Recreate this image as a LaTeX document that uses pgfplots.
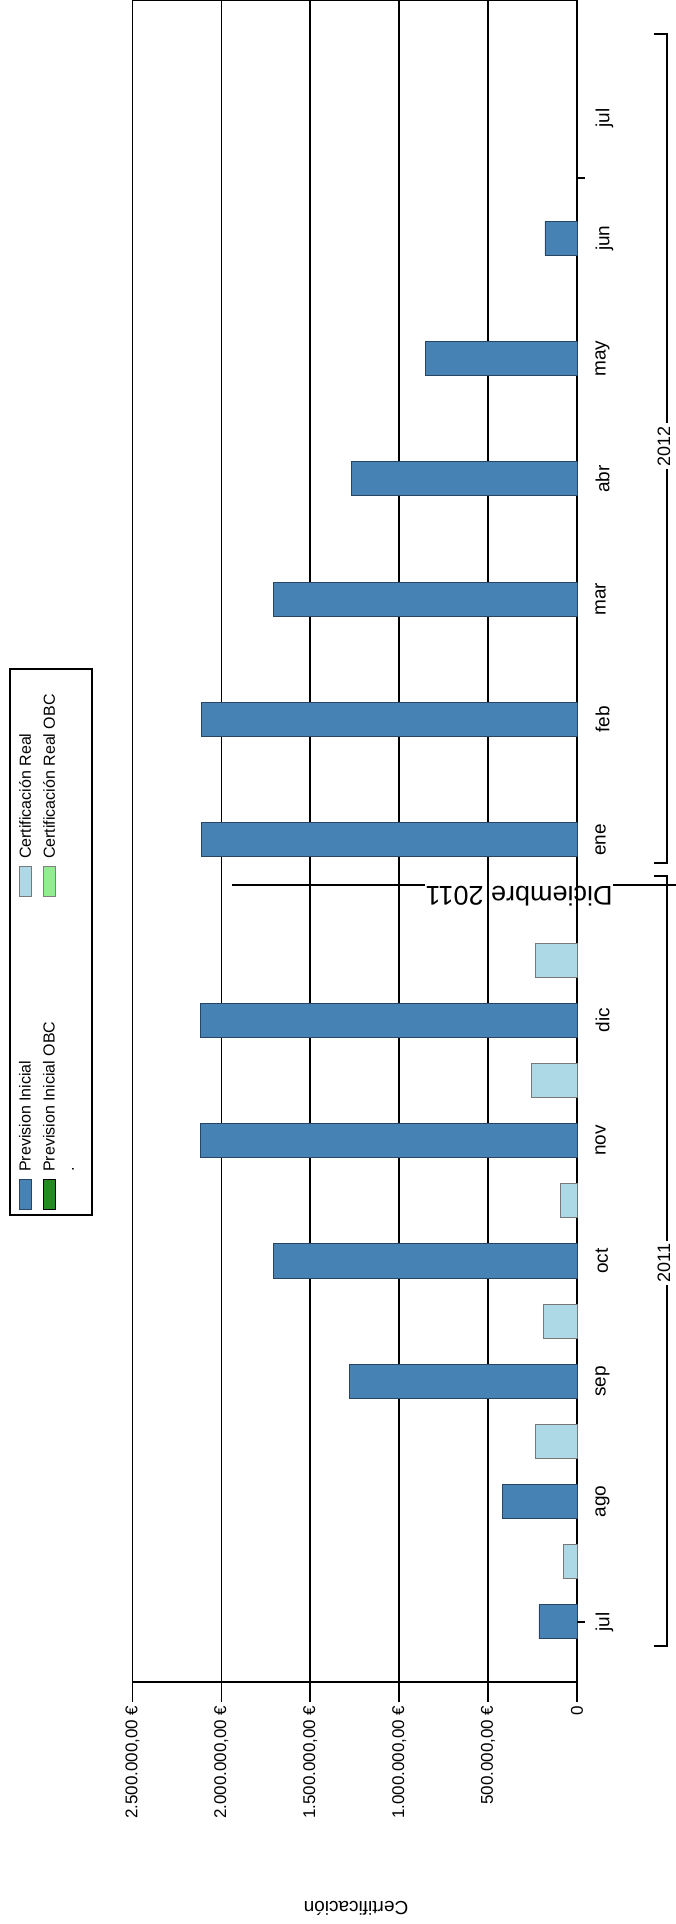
\documentclass[border=0pt]{standalone}
\usepackage{fontspec}
\setmainfont{Liberation Sans}
\usepackage{pgfplots}
\pgfplotsset{compat=1.18}
\newcommand{\fs}[1]{\fontsize{#1bp}{#1bp}\selectfont}
\definecolor{pi}{RGB}{70,130,180}
\definecolor{pie}{RGB}{40,70,100}
\definecolor{cr}{RGB}{173,216,230}
\definecolor{cre}{RGB}{120,120,120}
\definecolor{obc}{RGB}{34,139,34}
\definecolor{cobc}{RGB}{144,238,144}
\begin{document}
\begin{tikzpicture}
\path[use as bounding box] (0,0) rectangle (676bp,-1924bp);
\begin{axis}[
  at={(132.5bp,-1682bp)}, anchor=south west,
  scale only axis, width=444.5bp, height=1682bp,
  xbar, bar width=0.283, bar shift=0pt,
  xmin=0, xmax=2500000, x dir=reverse,
  ymin=-0.5, ymax=13.48,
  xtick={0,500000,1000000,1500000,2000000,2500000},
  xticklabels={{0},{500.000,00 €},{1.000.000,00 €},{1.500.000,00 €},{2.000.000,00 €},{2.500.000,00 €}},
  scaled x ticks=false,
  xtick pos=left, tick align=outside, major tick length=20bp,
  xticklabel style={rotate=90, anchor=east, font=\fs{17}},
  ytick={0,1,2,3,4,5,6.5,7.5,8.5,9.5,10.5,11.5,12.5},
  yticklabels={jul,ago,sep,oct,nov,dic,ene,feb,mar,abr,may,jun,jul},
  yticklabel pos=right,
  yticklabel style={xshift=-5bp, rotate=90, anchor=north, font=\fs{19}},
  xmajorgrids, grid style={black, line width=1.7bp},
  axis line style={black, line width=1.7bp},
  tick style={black, line width=1.7bp},
  ytick style={draw=none},
  clip=false,
]
\addplot[fill=pi, draw=pie, line width=0.8bp] coordinates {
 (214000,0) (418000,1) (1278000,2) (1706000,3) (2120000,4) (2120000,5)
 (2110000,6.5) (2110000,7.5) (1706000,8.5) (1270000,9.5) (850000,10.5) (180000,11.5)};
\addplot[fill=cr, draw=cre, line width=0.8bp] coordinates {
 (77000,0.5) (236000,1.5) (188000,2.5) (92000,3.5) (258000,4.5) (236000,5.5)};
\draw[black, line width=2.6bp] (rel axis cs:0,0) -- (rel axis cs:1,0);
\draw[black, line width=1.6bp] (axis cs:0,0) -- ++(8bp,0bp);
\draw[black, line width=1.6bp] (axis cs:0,12) -- ++(8bp,0bp);
\end{axis}
% legend (rotated like the whole chart)
\begin{scope}[shift={(10bp,-1215bp)}, rotate=90, transform shape]
  \draw[black, line width=1.3bp, fill=white] (0bp,0bp) rectangle (546bp,-82bp);
  \draw[fill=pi, draw=pie, line width=0.8bp] (6bp,-9bp) rectangle (36bp,-21bp);
  \node[anchor=west, inner sep=0pt, font=\fs{16}] at (43bp,-15bp) {Prevision Inicial};
  \draw[fill=cr, draw=cre, line width=0.8bp] (319bp,-9bp) rectangle (349bp,-21bp);
  \node[anchor=west, inner sep=0pt, font=\fs{16}] at (356bp,-15bp) {Certificación Real};
  \draw[fill=obc, draw=black, line width=0.8bp] (6bp,-33bp) rectangle (36bp,-45bp);
  \node[anchor=west, inner sep=0pt, font=\fs{16}] at (43bp,-39bp) {Prevision Inicial OBC};
  \draw[fill=cobc, draw=gray, line width=0.8bp] (319bp,-33bp) rectangle (349bp,-45bp);
  \node[anchor=west, inner sep=0pt, font=\fs{16}] at (356bp,-39bp) {Certificación Real OBC};
  \node[anchor=west, inner sep=0pt, font=\fs{16}] at (43bp,-63bp) {.};
\end{scope}
\draw[line width=1.5bp] (654bp,-876bp) -- (667bp,-876bp) -- (667bp,-1646bp) -- (654bp,-1646bp);
\node[rotate=90, fill=white, inner sep=3bp, font=\fs{18}] at (664bp,-1263bp) {2011};
\draw[line width=1.5bp] (654bp,-34bp) -- (667bp,-34bp) -- (667bp,-863bp) -- (654bp,-863bp);
\node[rotate=90, fill=white, inner sep=3bp, font=\fs{18}] at (664bp,-446bp) {2012};
\draw[line width=1.5bp] (232bp,-885bp) -- (425bp,-885bp);
\draw[line width=1.5bp] (613bp,-885bp) -- (676bp,-885bp);
\node[rotate=180, anchor=base, inner sep=0pt, font=\fs{27}] at (519bp,-886bp) {Diciembre 2011};
\node[rotate=180, font=\fs{19}] at (356bp,-1908bp) {Certificación};
\end{tikzpicture}
\end{document}
